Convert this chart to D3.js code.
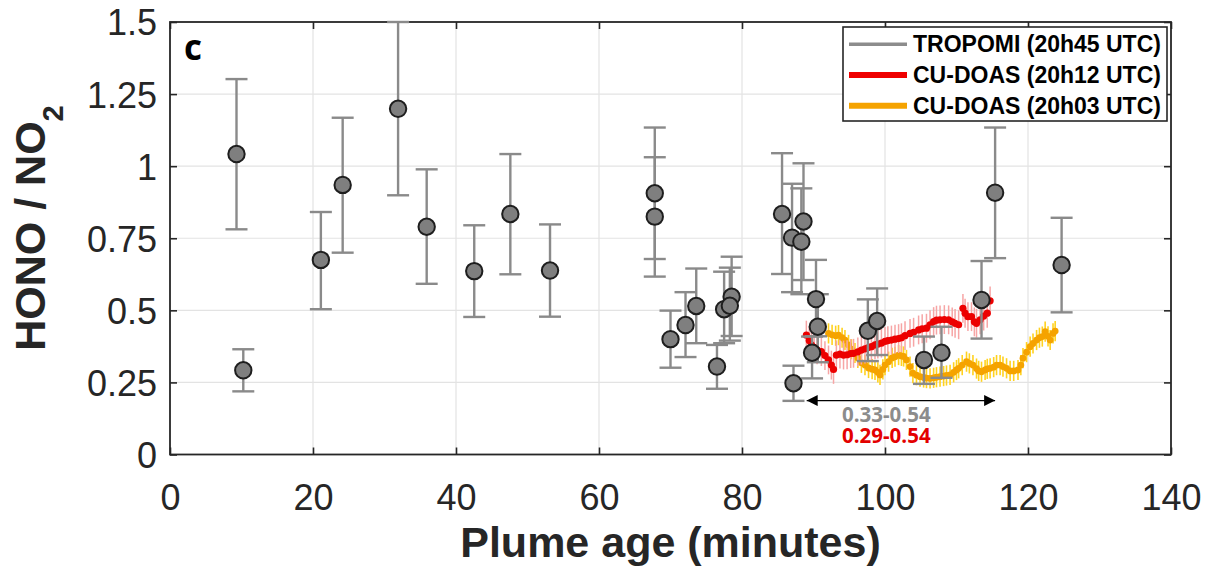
<!DOCTYPE html>
<html>
<head>
<meta charset="utf-8">
<script src="https://cdn.jsdelivr.net/npm/d3@7"></script>
<style>
  body { margin: 0; background: #fff; }
  svg { display: block; }
</style>
</head>
<body>
<svg id="chart" width="1206" height="569"></svg>
<script>
// TROPOMI points: plume age, ratio, lower and upper error
var tropAge = [9.3, 10.25, 21.1, 24.15, 31.9, 35.9, 42.55, 47.6, 53.15, 67.8, 67.8, 70.0, 72.1, 73.6, 76.5,
               77.5, 78.55, 78.3, 85.6, 87.0, 88.3, 88.6, 87.2, 90.35, 90.6, 89.8, 97.6, 98.9, 105.45, 107.9,
               113.5, 115.4, 124.7];
var tropVal = [1.042, 0.292, 0.675, 0.935, 1.199, 0.79, 0.636, 0.834, 0.638, 0.906, 0.825, 0.4, 0.449, 0.515, 0.305,
               0.504, 0.547, 0.516, 0.834, 0.752, 0.738, 0.808, 0.247, 0.539, 0.443, 0.353, 0.429, 0.463, 0.328, 0.353,
               0.536, 0.908, 0.657];
var tropLo  = [0.781, 0.219, 0.504, 0.7, 0.899, 0.592, 0.477, 0.625, 0.478, 0.678, 0.617, 0.301, 0.338, 0.386, 0.228,
               0.386, 0.411, 0.395, 0.626, 0.563, 0.556, 0.605, 0.186, 0.41, 0.32, 0.264, 0.324, 0.345, 0.245, 0.266,
               0.402, 0.681, 0.493];
var tropHi  = [1.302, 0.365, 0.841, 1.168, 1.5, 0.989, 0.795, 1.042, 0.798, 1.134, 1.031, 0.499, 0.563, 0.645, 0.38,
               0.634, 0.686, 0.648, 1.045, 0.939, 0.923, 1.01, 0.308, 0.675, 0.556, 0.409, 0.538, 0.576, 0.409, 0.443,
               0.671, 1.134, 0.821];

// CU-DOAS 20h12 UTC
var redAge = [89.0, 89.4, 89.7, 90.1, 90.5, 91.1, 91.6, 92.1, 92.5, 92.8, 93.2, 93.7, 94.2, 94.7, 95.2, 95.6,
              96.2, 96.7, 97.2, 97.6, 98.1, 98.6, 99.0, 99.5, 100.0, 100.4, 100.9, 101.4, 101.9, 102.3, 102.8,
              103.5, 104.0, 104.7, 105.2, 105.8, 106.3, 106.8, 107.2, 107.7, 108.3, 108.9, 109.4, 109.8, 110.3,
              110.9, 111.2, 111.6, 112.1, 112.5, 112.8, 113.3, 113.8, 114.3, 114.7];
var redVal = [0.414, 0.395, 0.38, 0.372, 0.363, 0.357, 0.343, 0.328, 0.31, 0.295, 0.345, 0.348, 0.345, 0.346, 0.35, 0.351,
              0.356, 0.362, 0.366, 0.37, 0.374, 0.38, 0.383, 0.386, 0.392, 0.395, 0.397, 0.4, 0.402, 0.405, 0.412,
              0.42, 0.424, 0.432, 0.436, 0.438, 0.45, 0.461, 0.466, 0.467, 0.468, 0.467, 0.46, 0.455, 0.45,
              0.507, 0.49, 0.478, 0.478, 0.46, 0.455, 0.467, 0.48, 0.49, 0.533];
var redErr = 0.05;

// CU-DOAS 20h03 UTC
var orangeAge = [92.1, 92.6, 93.1, 93.5, 94.0, 94.4, 94.9, 95.3, 95.8, 96.2, 96.7, 97.2, 97.7, 98.2, 98.6, 99.0,
                 99.3, 99.7, 100.0, 100.5, 101.0, 101.4, 101.9, 102.3, 102.6, 103.0, 103.5, 103.9, 104.4, 104.9,
                 105.4, 105.8, 106.3, 106.8, 107.2, 107.7, 108.2, 108.6, 109.1, 109.6, 110.0, 110.3, 110.8, 111.4,
                 111.8, 112.3, 112.8, 113.1, 113.5, 114.0, 114.3, 114.7, 115.2, 115.6, 116.1, 116.5, 117.0, 117.5,
                 118.0, 118.6, 119.0, 119.3, 119.8, 120.3, 120.7, 121.2, 121.6, 122.0, 122.4, 122.8, 123.1, 123.5, 123.8];
var orangeVal = [0.42, 0.415, 0.412, 0.414, 0.405, 0.397, 0.38, 0.365, 0.352, 0.335, 0.318, 0.31, 0.3, 0.296, 0.293, 0.285,
                 0.276, 0.295, 0.31, 0.322, 0.335, 0.339, 0.345, 0.342, 0.34, 0.328, 0.305, 0.282, 0.275, 0.27,
                 0.267, 0.265, 0.264, 0.266, 0.268, 0.27, 0.272, 0.274, 0.276, 0.285, 0.293, 0.299, 0.31, 0.322,
                 0.316, 0.31, 0.298, 0.29, 0.287, 0.293, 0.297, 0.299, 0.303, 0.31, 0.31, 0.305, 0.299, 0.29,
                 0.29, 0.293, 0.31, 0.334, 0.355, 0.374, 0.385, 0.397, 0.405, 0.409, 0.426, 0.41, 0.397, 0.42, 0.428];
var orangeErr = 0.035;

var xTicks = [0, 20, 40, 60, 80, 100, 120, 140];
var yTicks = [0, 0.25, 0.5, 0.75, 1, 1.25, 1.5];
var legendLabels = ['TROPOMI (20h45 UTC)', 'CU-DOAS (20h12 UTC)', 'CU-DOAS (20h03 UTC)'];
var rangeLabels = ['0.33-0.54', '0.29-0.54'];
var arrowSpan = [89.05, 115.4], arrowLevel = 0.187;

var svg = d3.select('#chart');
var pLeft = 170, pRight = 1171, pTop = 22, pBottom = 454.5;

var x = d3.scaleLinear().domain([0, 140]).range([pLeft, pRight]);
var y = d3.scaleLinear().domain([0, 1.5]).range([pBottom, pTop]);

var axisCol = '#262626';
var sans = '"Liberation Sans", Arial, sans-serif';

// grid
svg.append('g').selectAll('line').data(xTicks.slice(1, -1)).enter().append('line')
  .attr('x1', d => x(d)).attr('x2', d => x(d)).attr('y1', pTop).attr('y2', pBottom)
  .attr('stroke', '#e3e3e3').attr('stroke-width', 1.2);
svg.append('g').selectAll('line').data(yTicks.slice(1, -1)).enter().append('line')
  .attr('y1', d => y(d)).attr('y2', d => y(d)).attr('x1', pLeft).attr('x2', pRight)
  .attr('stroke', '#e3e3e3').attr('stroke-width', 1.2);

// axes (ticks inside, MATLAB style)
var gx = svg.append('g').attr('transform', 'translate(0,' + pBottom + ')')
  .call(d3.axisBottom(x).tickValues(xTicks).tickSizeInner(-7).tickSizeOuter(0).tickPadding(30).tickFormat(d => d));
var gxt = svg.append('g').attr('transform', 'translate(0,' + pTop + ')')
  .call(d3.axisTop(x).tickValues(xTicks).tickSizeInner(-7).tickSizeOuter(0).tickFormat(''));
var gy = svg.append('g').attr('transform', 'translate(' + pLeft + ',0)')
  .call(d3.axisLeft(y).tickValues(yTicks).tickSizeInner(-7).tickSizeOuter(0).tickPadding(13).tickFormat(d => String(d)));
var gyr = svg.append('g').attr('transform', 'translate(' + pRight + ',0)')
  .call(d3.axisRight(y).tickValues(yTicks).tickSizeInner(-7).tickSizeOuter(0).tickFormat(''));

[gx, gxt, gy, gyr].forEach(function(g) {
  g.select('.domain').remove();
  g.selectAll('line').attr('stroke', axisCol).attr('stroke-width', 1.6);
  g.selectAll('text').attr('fill', axisCol).style('font-family', sans).style('font-size', '36px');
});
gy.selectAll('text').attr('dy', '0.36em');

svg.append('rect').attr('x', pLeft).attr('y', pTop).attr('width', pRight - pLeft).attr('height', pBottom - pTop)
  .attr('fill', 'none').attr('stroke', axisCol).attr('stroke-width', 1.8);

var plot = svg.append('g');

// orange series
var orange = orangeAge.map((a, i) => ({a: a, v: orangeVal[i]}));
plot.append('g').selectAll('line').data(orange).enter().append('line')
  .attr('x1', d => x(d.a)).attr('x2', d => x(d.a))
  .attr('y1', d => y(d.v - orangeErr)).attr('y2', d => y(d.v + orangeErr))
  .attr('stroke', '#ffd21f').attr('stroke-width', 1.6);
plot.append('g').selectAll('circle').data(orange).enter().append('circle')
  .attr('cx', d => x(d.a)).attr('cy', d => y(d.v)).attr('r', 3.4)
  .attr('fill', '#f5a300');

// red series
var red = redAge.map((a, i) => ({a: a, v: redVal[i]}));
plot.append('g').selectAll('line').data(red).enter().append('line')
  .attr('x1', d => x(d.a)).attr('x2', d => x(d.a))
  .attr('y1', d => y(d.v - redErr)).attr('y2', d => y(d.v + redErr))
  .attr('stroke', '#f7a5a5').attr('stroke-width', 1.5);
plot.append('g').selectAll('circle').data(red).enter().append('circle')
  .attr('cx', d => x(d.a)).attr('cy', d => y(d.v)).attr('r', 3.6)
  .attr('fill', '#ec0000');

// TROPOMI error bars and points
var trop = tropAge.map((a, i) => ({a: a, v: tropVal[i], lo: tropLo[i], hi: tropHi[i]}));
var eb = plot.append('g').attr('stroke', '#8a8a8a').attr('stroke-width', 2.4);
trop.forEach(function(d) {
  eb.append('line').attr('x1', x(d.a)).attr('x2', x(d.a)).attr('y1', y(d.lo)).attr('y2', y(d.hi));
  eb.append('line').attr('x1', x(d.a) - 11).attr('x2', x(d.a) + 11).attr('y1', y(d.lo)).attr('y2', y(d.lo));
  eb.append('line').attr('x1', x(d.a) - 11).attr('x2', x(d.a) + 11).attr('y1', y(d.hi)).attr('y2', y(d.hi));
});
plot.append('g').selectAll('circle').data(trop).enter().append('circle')
  .attr('cx', d => x(d.a)).attr('cy', d => y(d.v)).attr('r', 8.2)
  .attr('fill', '#7f7f7f').attr('stroke', '#1e1e1e').attr('stroke-width', 2);

// range arrow
var defs = svg.append('defs');
defs.append('marker').attr('id', 'tri').attr('viewBox', '0 0 10 10').attr('refX', 10).attr('refY', 5)
  .attr('markerWidth', 13).attr('markerHeight', 11).attr('markerUnits', 'userSpaceOnUse').attr('orient', 'auto-start-reverse')
  .append('path').attr('d', 'M0,0L10,5L0,10Z').attr('fill', '#000');
svg.append('line').attr('x1', x(arrowSpan[0])).attr('x2', x(arrowSpan[1]))
  .attr('y1', y(arrowLevel)).attr('y2', y(arrowLevel))
  .attr('stroke', '#000').attr('stroke-width', 1.3)
  .attr('marker-start', 'url(#tri)').attr('marker-end', 'url(#tri)');
var rangeCol = ['#8c8c8c', '#e30000'];
rangeLabels.forEach(function(t, i) {
  svg.append('text').attr('x', 842).attr('y', 422 + i * 21).text(t)
    .attr('fill', rangeCol[i]).style('font-family', '"Open Sans", sans-serif')
    .style('font-weight', 'bold').style('font-size', '20.5px');
});

// panel letter
svg.append('text').attr('x', 184).attr('y', 60).text('c')
  .style('font-family', '"Open Sans", sans-serif').style('font-weight', 'bold').style('font-size', '35px').attr('fill', '#000');

// legend
var lg = svg.append('g');
lg.append('rect').attr('x', 843).attr('y', 27).attr('width', 324).attr('height', 94)
  .attr('fill', '#fff').attr('stroke', axisCol).attr('stroke-width', 1.6);
var legCol = ['#8c8c8c', '#ef0000', '#f5a300'];
var legW = [3.5, 6, 6];
legendLabels.forEach(function(t, i) {
  var ly = 44.3 + i * 30.7;
  lg.append('line').attr('x1', 849).attr('x2', 907).attr('y1', ly).attr('y2', ly)
    .attr('stroke', legCol[i]).attr('stroke-width', legW[i]);
  lg.append('text').attr('x', 913).attr('y', ly + 8).text(t)
    .attr('fill', '#000').style('font-family', sans)
    .style('font-weight', 'bold').style('font-size', '23px');
});

// axis titles
svg.append('text').attr('x', (pLeft + pRight) / 2).attr('y', 557).attr('text-anchor', 'middle')
  .text('Plume age (minutes)').attr('fill', axisCol)
  .style('font-family', sans).style('font-weight', 'bold').style('font-size', '43px');

var yl = svg.append('text').attr('transform', 'translate(45,228) rotate(-90)').attr('text-anchor', 'middle')
  .attr('fill', axisCol).style('font-family', sans)
  .style('font-weight', 'bold').style('font-size', '43px');
yl.append('tspan').text('HONO / NO');
yl.append('tspan').text('2').attr('dy', 18).style('font-size', '29px');
</script>
</body>
</html>
